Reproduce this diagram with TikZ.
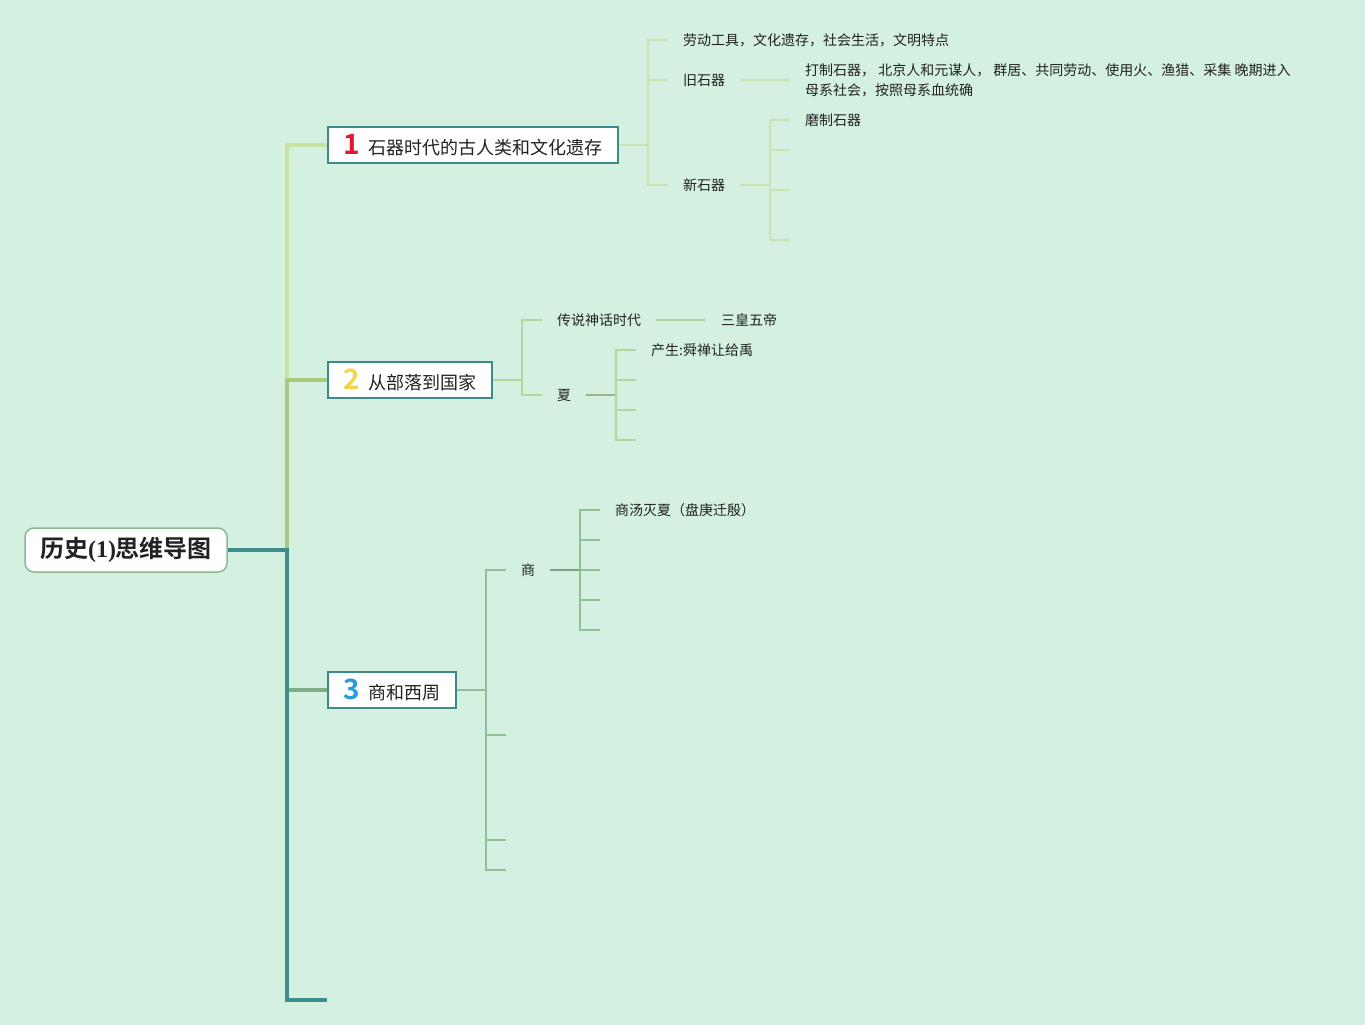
\documentclass[tikz,border=0pt]{standalone}
\usepackage{fontspec}
\setmainfont{Noto Sans CJK SC}[BoldFont={Noto Sans CJK SC Bold}]
\newfontfamily\latinbf{Liberation Serif}
\usetikzlibrary{positioning,calc}
\definecolor{bg}{HTML}{D3F0E1}
\definecolor{trunkA}{HTML}{C6E3A0}
\definecolor{trunkB}{HTML}{A9C97C}
\definecolor{trunkC}{HTML}{7FAD86}
\definecolor{trunkD}{HTML}{3D8E8B}
\definecolor{boxline}{HTML}{3E8A8A}
\definecolor{rootline}{HTML}{8DB890}
\definecolor{subA}{HTML}{C4E5B0}
\definecolor{subB}{HTML}{B2D79C}
\definecolor{subC}{HTML}{8FC096}
\definecolor{numA}{HTML}{E0192E}
\definecolor{numB}{HTML}{F4D54A}
\definecolor{numC}{HTML}{2A9ADA}
\definecolor{ink}{HTML}{222222}
\newcommand\topicnum[2]{{\fontsize{28}{28}\selectfont\bfseries\color{#1}#2}\hspace{9pt}}

\begin{document}
\begin{tikzpicture}[x=1pt,y=-1pt,
 trunk/.style={line width=4pt},
 topic/.style={draw=boxline,line width=2pt,fill=white,anchor=west,minimum height=36pt,inner xsep=15pt,inner ysep=0pt,text=ink,font=\fontsize{18}{18}\selectfont},
 leaf/.style={anchor=west,inner sep=0pt,text=ink,font=\fontsize{14}{20}\selectfont,align=left},
 thin/.style={line width=1.5pt}]
\fill[bg] (0,0) rectangle (1365,1025);
% root and main topics
\node[draw=rootline,line width=1.5pt,fill=white,rounded corners=9pt,minimum width=202pt,minimum height=44pt,text=ink,font=\fontsize{24}{24}\selectfont\bfseries] (root) at (126,550) {历史{\latinbf\bfseries(1)}思维导图};
\node[topic] (b1) at (327,145) {\topicnum{numA}{1}石器时代的古人类和文化遗存};
\node[topic] (b2) at (327,380) {\topicnum{numB}{2}从部落到国家};
\node[topic] (b3) at (327,690) {\topicnum{numC}{3}商和西周};
\coordinate (fork) at (287,550);\coordinate (tail) at (327,1000);
\draw[trunk,trunkA] (root.east) -- (fork) |- (b1.west);
\draw[trunk,trunkB] (root.east) -- (fork) |- (b2.west);
\draw[trunk,trunkC] (root.east) -- (fork) |- (b3.west);
\draw[trunk,trunkD] (root.east) -- (fork) |- (tail);
% topic 1
\node[leaf] (tools) at (683,40) {劳动工具，文化遗存，社会生活，文明特点};
\node[leaf] (old) at (683,80) {旧石器};
\node[leaf] (new) at (683,185) {新石器};
\node[leaf] (olddesc) at (805,80) {打制石器， 北京人和元谋人， 群居、共同劳动、使用火、渔猎、采集 晚期进入\\母系社会，按照母系血统确};
\node[leaf] (polish) at (805,120) {磨制石器};
\coordinate (j1) at (648,145);\coordinate (jnew) at (770,185);
\draw[thin,subA] (b1.east) -- (j1);
\foreach \n in {tools,old,new} \draw[thin,subA] (j1) |- ([xshift=-15pt]\n.west);
\draw[thin,subA] ([xshift=15pt]old.east) -- ([xshift=-15pt]olddesc.west);
\draw[thin,subA] ([xshift=15pt]new.east) -- (jnew);
\draw[thin,subA] (jnew) |- ([xshift=-15pt]polish.west);
\foreach \y in {150,190,240} \draw[thin,subA] (jnew) |- (790,\y);
% topic 2
\node[leaf] (myth) at (557,320) {传说神话时代};
\node[leaf] (xia) at (557,395) {夏};
\node[leaf] (huang) at (721,320) {三皇五帝};
\node[leaf] (chan) at (651,350) {产生:舜禅让给禹};
\coordinate (j2) at (522,380);\coordinate (jxia) at (616,395);
\draw[thin,subB] (b2.east) -- (j2);
\foreach \n in {myth,xia} \draw[thin,subB] (j2) |- ([xshift=-15pt]\n.west);
\draw[thin,subB] ([xshift=15pt]myth.east) -- ([xshift=-15pt]huang.west);
\draw[line width=2pt,subB!85!black] ([xshift=15pt]xia.east) -- (jxia);
\draw[thin,subB] (jxia) |- ([xshift=-15pt]chan.west);
\foreach \y in {380,410,440} \draw[thin,subB] (jxia) |- (636,\y);
% topic 3
\node[leaf] (shang) at (521,570) {商};
\node[leaf] (tang) at (615,510) {商汤灭夏（盘庚迁殷）};
\coordinate (j3) at (486,690);\coordinate (jshang) at (580,570);
\draw[thin,subC] (b3.east) -- (j3);
\draw[thin,subC] (j3) |- ([xshift=-15pt]shang.west);
\foreach \y in {735,840,870} \draw[thin,subC] (j3) |- (506,\y);
\draw[line width=2pt,subC!85!black] ([xshift=15pt]shang.east) -- (jshang);
\draw[thin,subC] (jshang) |- ([xshift=-15pt]tang.west);
\foreach \y in {540,570,600,630} \draw[thin,subC] (jshang) |- (600,\y);
\end{tikzpicture}
\end{document}
